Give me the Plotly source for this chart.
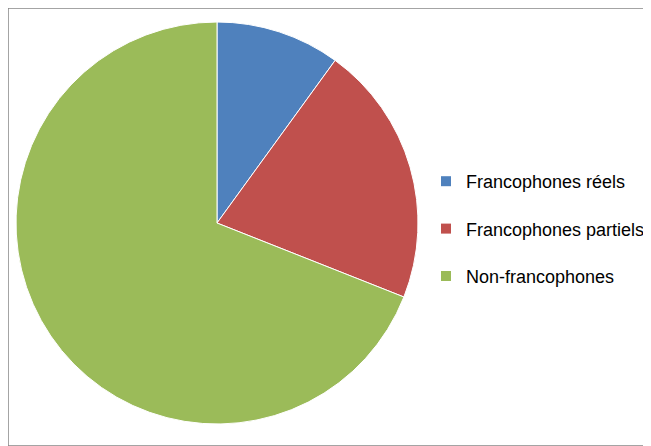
import plotly.graph_objects as go

# Répartition de la population
labels = ["Francophones réels", "Francophones partiels", "Non-francophones"]
values = [10, 21, 69]
colors = ["#4F81BD", "#C0504D", "#9BBB59"]

W, H = 643, 438  # la page ajoute 8px de marge au body

fig = go.Figure()

fig.add_trace(go.Pie(
    labels=labels, values=values, sort=False, direction="clockwise", rotation=0,
    marker=dict(colors=colors, line=dict(color="white", width=1)),
    textinfo="none", hoverinfo="label+percent", showlegend=False,
    domain=dict(x=[8 / W, 410 / W], y=[1 - 416 / H, 1 - 14 / H]),
))

# legende (une entree par groupe pour pouvoir espacer)
for lab, col in zip(labels, colors):
    fig.add_trace(go.Scatter(
        x=[None], y=[None], mode="markers", name=lab, legendgroup=lab,
        marker=dict(symbol="square", size=10, color=col),
    ))

fig.update_layout(
    width=W, height=H,
    margin=dict(l=0, r=0, t=0, b=0),
    paper_bgcolor="white", plot_bgcolor="white",
    font=dict(family="Liberation Sans, Arial, sans-serif", size=18, color="black"),
    xaxis=dict(visible=False), yaxis=dict(visible=False),
    legend=dict(x=418 / W, y=1 - 221 / H, xanchor="left", yanchor="middle",
                traceorder="grouped", tracegroupgap=21, itemclick=False,
                borderwidth=0, font=dict(size=18)),
    shapes=[dict(type="rect", xref="paper", yref="paper", x0=0, y0=0, x1=1, y1=1,
                 line=dict(color="#868686", width=1.5))],
)

fig.write_html("out.html")
